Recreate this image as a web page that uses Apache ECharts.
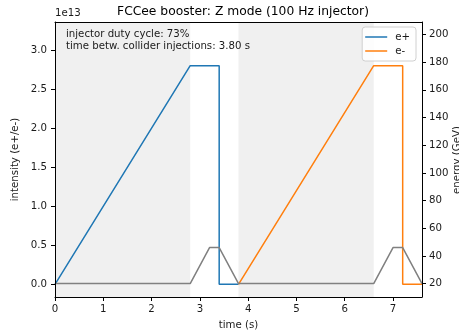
<!DOCTYPE html>
<html>
<head>
<meta charset="utf-8">
<script src="https://cdn.jsdelivr.net/npm/echarts@6/dist/echarts.min.js"></script>
<style>
html,body{margin:0;padding:0;background:#fff}
#chart{width:459px;height:330px}
</style>
</head>
<body>
<div id="chart"></div>
<script>
// intensity in units of 1e13
var tPos = [0, 2.8, 3.4, 3.4, 3.8];
var intPos = [0, 2.8, 2.8, 0, 0];
var tEle = [3.8, 6.6, 7.2, 7.2, 7.6];
var intEle = [0, 2.8, 2.8, 0, 0];
var tEnergy = [0, 2.8, 3.2, 3.4, 3.8, 6.6, 7.0, 7.2, 7.6];
var energy = [20, 20, 46, 46, 20, 20, 46, 46, 20];
var injWindows = [[0, 2.8], [3.8, 6.6]];
var xTicks = [0, 1, 2, 3, 4, 5, 6, 7];
var intTicks = [0, 0.5, 1, 1.5, 2, 2.5, 3];
var energyTicks = [20, 40, 60, 80, 100, 120, 140, 160, 180, 200];

var FONT = "DejaVu Sans";
var TXT = "#1a1a1a";
var FS = 10.2;

function pairs(xs, ys){
	var out = [];
	for(var i=0;i<xs.length;i++){
		out.push([xs[i], ys[i]]);
	}
	return out;
}
function tickStyle(vals){
	return {show:true, length:4, customValues:vals, lineStyle:{color:"#000", width:1}};
}
function labelStyle(vals, margin, fmt){
	var o = {color:TXT, fontFamily:FONT, fontSize:FS, margin:margin, customValues:vals};
	if(fmt){
		o.formatter = fmt;
	}
	return o;
}

var chart = echarts.init(document.getElementById("chart"));

var axisLine = {show:true, onZero:false, lineStyle:{color:"#000", width:1}};
var nameStyle = {fontFamily:FONT, fontSize:FS, color:TXT};

var option = {
	animation:false,
	textStyle:{fontFamily:FONT},
	title:{
		text:"FCCee booster: Z mode (100 Hz injector)",
		left:238, top:1, textAlign:"center",
		textStyle:{fontFamily:FONT, fontSize:12.3, fontWeight:"normal", color:"#000"}
	},
	legend:{
		data:["e+","e-"],
		orient:"vertical",
		right:43, top:27,
		icon:"rect",
		itemWidth:22, itemHeight:1.5, itemGap:4,
		padding:[5,6,5,3],
		backgroundColor:"rgba(255,255,255,0.85)",
		borderColor:"#d0d0d0", borderWidth:1, borderRadius:3,
		textStyle:{fontFamily:FONT, fontSize:FS, color:TXT, padding:[0,0,0,3]}
	},
	grid:{left:55, right:37, top:22, bottom:33, containLabel:false, outerBoundsMode:"none"},
	graphic:[
		{type:"text", left:55, top:8, z:100, style:{text:"1e13", fontFamily:FONT, fontSize:FS, fill:TXT}},
		{type:"text", left:66, top:28, z:100, style:{
			text:"injector duty cycle: 73%\ntime betw. collider injections: 3.80 s",
			fontFamily:FONT, fontSize:FS, lineHeight:12.5, fill:TXT}},
		// right axis title, partly cut by the page edge as in the original
		{type:"text", x:457, y:160, rotation:Math.PI/2, z:100, style:{
			text:"energy (GeV)", fontFamily:FONT, fontSize:FS, fill:TXT,
			align:"center", verticalAlign:"middle"}}
	],
	xAxis:[{
		type:"value", min:0, max:7.6, z:10,
		name:"time (s)", nameLocation:"middle", nameGap:23, nameTextStyle:nameStyle,
		axisLine:axisLine, axisTick:tickStyle(xTicks), axisLabel:labelStyle(xTicks, 7),
		splitLine:{show:false}
	},{
		type:"value", min:0, max:7.6, position:"top", z:10,
		axisLine:axisLine, axisTick:{show:false}, axisLabel:{show:false}, splitLine:{show:false}
	}],
	yAxis:[{
		type:"value", min:-0.163, max:3.36, z:10,
		name:"intensity (e+/e-)", nameLocation:"middle", nameGap:28, nameRotate:90, nameTextStyle:nameStyle,
		axisLine:axisLine, axisTick:tickStyle(intTicks),
		axisLabel:labelStyle(intTicks, 8, function(v){return v.toFixed(1);}),
		splitLine:{show:false}
	},{
		type:"value", min:10.3, max:209, position:"right", z:10,
		axisLine:axisLine, axisTick:tickStyle(energyTicks), axisLabel:labelStyle(energyTicks, 7),
		splitLine:{show:false}
	}],
	series:[{
		name:"energy",
		type:"line", yAxisIndex:1, symbol:"none", z:3,
		data:pairs(tEnergy, energy),
		lineStyle:{color:"#808080", width:1.5},
		itemStyle:{color:"#808080"},
		markArea:{
			silent:true,
			itemStyle:{color:"#f0f0f0"},
			data:injWindows.map(function(w){return [{xAxis:w[0]},{xAxis:w[1]}];})
		}
	},{
		name:"e+",
		type:"line", symbol:"none", z:2,
		data:pairs(tPos, intPos),
		lineStyle:{color:"#1f77b4", width:1.5},
		itemStyle:{color:"#1f77b4"}
	},{
		name:"e-",
		type:"line", symbol:"none", z:2,
		data:pairs(tEle, intEle),
		lineStyle:{color:"#ff7f0e", width:1.5},
		itemStyle:{color:"#ff7f0e"}
	}]
};

chart.setOption(option);
</script>
</body>
</html>
